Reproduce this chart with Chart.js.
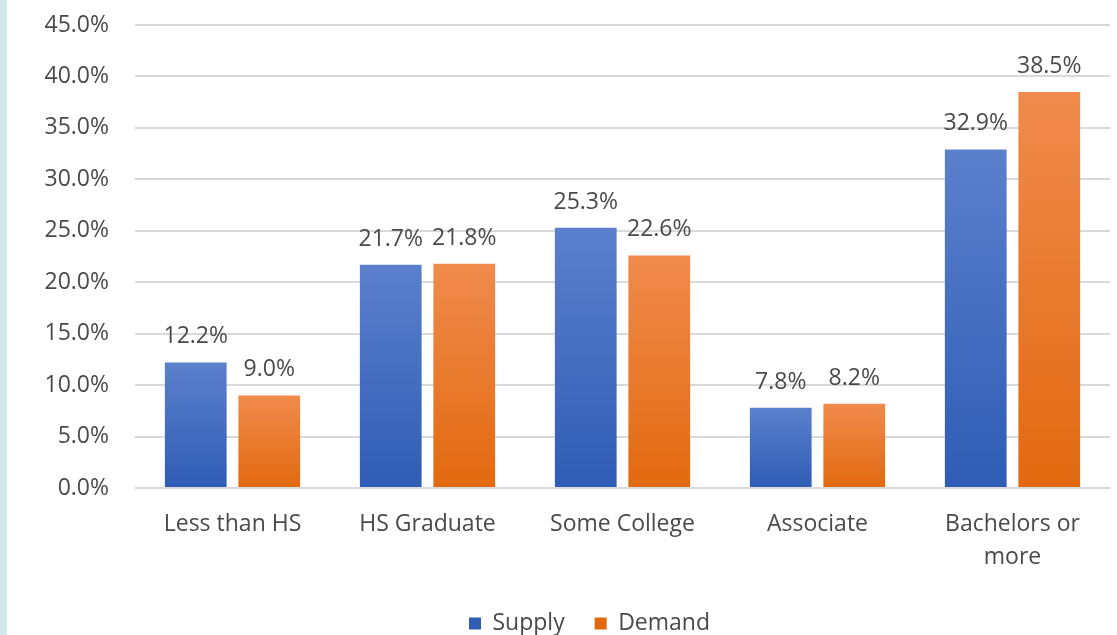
<!DOCTYPE html>
<html>
<head>
<meta charset="utf-8">
<script src="https://cdn.jsdelivr.net/npm/chart.js@4/dist/chart.umd.min.js"></script>
<style>
  body { margin: 0; background: #fff; }
  #wrap { width: 1110px; height: 635px; border-left: 7px solid #cfe9ea; }
</style>
</head>
<body>
<div id="wrap"><canvas id="eduChart" width="1110" height="635"></canvas></div>
<script>
// education levels, supply vs demand (percent)
const categories = ['Less than HS', 'HS Graduate', 'Some College', 'Associate', ['Bachelors or', 'more']];
const supply = [12.2, 21.7, 25.3, 7.8, 32.9];
const demand = [9.0, 21.8, 22.6, 8.2, 38.5];
const yTicks = [0, 5, 10, 15, 20, 25, 30, 35, 40, 45];

const FONT = '"Open Sans", "Noto Sans", sans-serif';
const TEXT = '#4a4a4a';

// vertical gradient per bar, lighter at the top
function barFill(top, bottom) {
    return function (context) {
        const chart = context.chart;
        const y = chart.scales && chart.scales.y;
        if (!y || context.raw === undefined) return bottom;
        const y0 = y.getPixelForValue(context.raw);
        const y1 = y.getPixelForValue(0);
        if (!isFinite(y0) || !isFinite(y1) || y0 === y1) return bottom;
        const g = chart.ctx.createLinearGradient(0, y0, 0, y1);
        g.addColorStop(0, top);
        g.addColorStop(1, bottom);
        return g;
    };
}

// value labels above the bars
const valueLabels = {
    id: 'valueLabels',
    afterDatasetsDraw(chart) {
        const ctx = chart.ctx;
        ctx.save();
        ctx.font = '23px ' + FONT;
        ctx.fillStyle = TEXT;
        ctx.textAlign = 'center';
        ctx.textBaseline = 'alphabetic';
        chart.data.datasets.forEach((ds, i) => {
            chart.getDatasetMeta(i).data.forEach((bar, j) => {
                ctx.fillText(ds.data[j].toFixed(1) + '%', bar.x, bar.y - 19);
            });
        });
        ctx.restore();
    }
};

// legend in the original sits a bit right of the canvas centre
const legendShift = {
    id: 'legendShift',
    afterLayout(chart) {
        if (!chart.legend) return;
        chart.legend.left += 31;
        chart.legend.right += 31;
    }
};

const ctx = document.getElementById('eduChart').getContext('2d');
new Chart(ctx, {
    type: 'bar',
    data: {
        labels: categories,
        datasets: [{
            label: 'Supply',
            data: supply,
            backgroundColor: barFill('#5b80cc', '#2f5cb5'),
            categoryPercentage: 0.754,
            barPercentage: 0.84
        }, {
            label: 'Demand',
            data: demand,
            backgroundColor: barFill('#f08b4d', '#e2690f'),
            categoryPercentage: 0.754,
            barPercentage: 0.84
        }]
    },
    options: {
        responsive: false,
        animation: false,
        layout: { padding: { top: 25, right: 7, bottom: -10, left: 0 } },
        plugins: {
            tooltip: { enabled: false },
            legend: {
                position: 'bottom',
                labels: {
                    boxWidth: 12,
                    boxHeight: 12,
                    padding: 30,
                    color: TEXT,
                    font: { family: FONT, size: 23 }
                }
            }
        },
        scales: {
            x: {
                grid: { display: false, drawTicks: false },
                border: { display: false },
                ticks: {
                    color: TEXT,
                    padding: 20,
                    font: { family: FONT, size: 23, lineHeight: 1.43 }
                },
                afterFit(scale) { scale.height = 94; }
            },
            y: {
                min: 0,
                max: 45,
                afterBuildTicks(scale) { scale.ticks = yTicks.map(v => ({ value: v })); },
                afterFit(scale) {
                    scale.width = 128;
                    scale.paddingTop = 0;
                    scale.paddingBottom = 0;
                },
                border: { display: false },
                grid: { color: '#d9d9d9', lineWidth: 2, drawTicks: false },
                ticks: {
                    color: TEXT,
                    padding: 26,
                    font: { family: FONT, size: 23 },
                    callback: v => v.toFixed(1) + '%'
                }
            }
        }
    },
    plugins: [valueLabels, legendShift]
});
</script>
</body>
</html>
